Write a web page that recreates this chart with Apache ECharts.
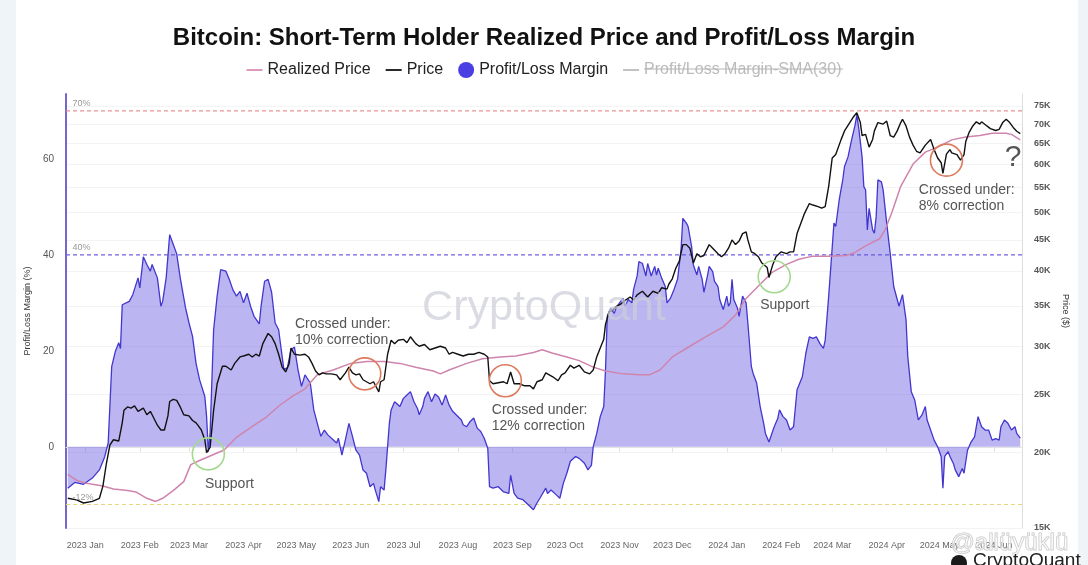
<!DOCTYPE html>
<html>
<head>
<meta charset="utf-8">
<script src="https://cdn.jsdelivr.net/npm/echarts@6/dist/echarts.min.js"></script>
<style>
html,body{margin:0;padding:0;background:#fff;}
#chart{width:1088px;height:565px;}
</style>
</head>
<body>
<div id="chart"></div>
<script>
// ---------- DATA ----------
const marginDates = [
'2022-12-22','2022-12-26','2022-12-31','2023-01-05','2023-01-09','2023-01-12','2023-01-14','2023-01-16','2023-01-18','2023-01-20',
'2023-01-21','2023-01-22','2023-01-26','2023-01-28','2023-01-31','2023-02-01','2023-02-03','2023-02-05','2023-02-07','2023-02-08',
'2023-02-11','2023-02-13','2023-02-14','2023-02-16','2023-02-18','2023-02-20','2023-02-22','2023-02-24','2023-02-27','2023-03-01',
'2023-03-03','2023-03-05','2023-03-07','2023-03-10','2023-03-11','2023-03-12','2023-03-13','2023-03-15','2023-03-17','2023-03-19',
'2023-03-22','2023-03-24','2023-03-26','2023-03-28','2023-03-30','2023-04-01','2023-04-03','2023-04-05','2023-04-07','2023-04-10',
'2023-04-11','2023-04-13','2023-04-15','2023-04-17','2023-04-19','2023-04-21','2023-04-23','2023-04-24','2023-04-26','2023-04-28',
'2023-04-30','2023-05-02','2023-05-04','2023-05-06','2023-05-09','2023-05-11','2023-05-13','2023-05-15','2023-05-17','2023-05-19',
'2023-05-22','2023-05-24','2023-05-25','2023-05-27','2023-05-29','2023-05-31','2023-06-02','2023-06-04','2023-06-06','2023-06-08',
'2023-06-10','2023-06-12','2023-06-14','2023-06-15','2023-06-17','2023-06-18','2023-06-20','2023-06-21','2023-06-23','2023-06-24',
'2023-06-26','2023-06-27','2023-06-29','2023-07-01','2023-07-03','2023-07-05','2023-07-07','2023-07-09','2023-07-10','2023-07-12',
'2023-07-13','2023-07-15','2023-07-17','2023-07-19','2023-07-21','2023-07-23','2023-07-25','2023-07-27','2023-07-29','2023-07-31',
'2023-08-03','2023-08-04','2023-08-06','2023-08-08','2023-08-10','2023-08-12','2023-08-14','2023-08-16','2023-08-18','2023-08-19',
'2023-08-21','2023-08-24','2023-08-27','2023-08-30','2023-08-31','2023-09-02','2023-09-04','2023-09-07','2023-09-09','2023-09-13',
'2023-09-15','2023-09-17','2023-09-20','2023-09-21','2023-09-23','2023-09-26','2023-09-28','2023-09-30','2023-10-02','2023-10-04',
'2023-10-05','2023-10-07','2023-10-09','2023-10-12','2023-10-14','2023-10-16','2023-10-17','2023-10-19','2023-10-21','2023-10-23',
'2023-10-24','2023-10-25','2023-10-27','2023-10-29','2023-10-30','2023-11-01','2023-11-03','2023-11-04','2023-11-06','2023-11-08',
'2023-11-09','2023-11-11','2023-11-12','2023-11-14','2023-11-16','2023-11-17','2023-11-19','2023-11-21','2023-11-22','2023-11-23',
'2023-11-25','2023-11-27','2023-11-28','2023-11-30','2023-12-02','2023-12-04','2023-12-06','2023-12-07','2023-12-09','2023-12-10',
'2023-12-12','2023-12-13','2023-12-15','2023-12-16','2023-12-18','2023-12-19','2023-12-21','2023-12-22','2023-12-24','2023-12-25',
'2023-12-27','2023-12-28','2023-12-30','2024-01-01','2024-01-02','2024-01-03','2024-01-04','2024-01-05','2024-01-07','2024-01-08',
'2024-01-10','2024-01-12','2024-01-13','2024-01-15','2024-01-16','2024-01-18','2024-01-20','2024-01-22','2024-01-23','2024-01-25',
'2024-01-26','2024-01-28','2024-01-30','2024-01-31','2024-02-02','2024-02-04','2024-02-06','2024-02-08','2024-02-10','2024-02-13',
'2024-02-15','2024-02-17','2024-02-19','2024-02-21','2024-02-23','2024-02-25','2024-02-26','2024-02-28','2024-03-02','2024-03-03',
'2024-03-05','2024-03-07','2024-03-08','2024-03-10','2024-03-12','2024-03-14','2024-03-15','2024-03-16','2024-03-18','2024-03-19',
'2024-03-20','2024-03-21','2024-03-22','2024-03-24','2024-03-25','2024-03-26','2024-03-27','2024-03-29','2024-03-30','2024-04-01',
'2024-04-03','2024-04-05','2024-04-07','2024-04-08','2024-04-10','2024-04-12','2024-04-13','2024-04-15','2024-04-17','2024-04-19',
'2024-04-21','2024-04-23','2024-04-24','2024-04-26','2024-04-28','2024-04-30','2024-05-02','2024-05-03','2024-05-04','2024-05-06',
'2024-05-07','2024-05-09','2024-05-10','2024-05-12','2024-05-14','2024-05-15','2024-05-17','2024-05-19','2024-05-21','2024-05-23',
'2024-05-25','2024-05-27','2024-05-29','2024-05-31','2024-06-02','2024-06-04','2024-06-05','2024-06-07','2024-06-09','2024-06-11',
'2024-06-13','2024-06-14','2024-06-16'
];
const marginValues = [
-8.6,-7.4,-7.8,-6.5,-4.8,-2.1,0.8,16.7,19.8,21.7,
20.5,29.6,30.3,31.7,35.2,33.1,39.6,38.0,36.6,38.0,
35.2,29.3,30.3,35.2,44.2,42.2,40.2,35.2,29.0,25.8,
23.0,17.4,14.0,10.5,6.3,-1.0,2.9,24.4,31.4,36.9,
36.6,34.8,32.7,31.4,32.4,30.0,32.0,29.3,27.2,25.6,
29.3,34.5,34.9,32.2,25.8,24.4,18.8,16.1,16.5,20.2,
20.8,16.1,12.6,15.0,13.3,7.7,4.9,2.2,3.5,2.5,
1.5,0.8,1.8,-1.7,1.5,4.9,2.2,-0.7,-1.7,-4.8,
-5.5,-8.3,-7.6,-9.0,-11.4,-8.3,-9.0,-4.8,4.9,7.7,
9.4,9.8,8.4,10.1,10.8,11.5,9.4,8.0,6.7,8.4,
10.1,11.5,9.4,11.0,10.4,8.7,10.8,8.7,7.4,6.7,
5.6,4.6,4.2,5.3,6.0,3.9,3.2,1.8,-0.3,-8.3,
-8.6,-8.3,-9.4,-9.7,-5.9,-9.7,-10.7,-11.0,-11.7,-13.1,
-11.7,-10.5,-8.6,-9.7,-9.0,-10.0,-10.7,-7.6,-5.5,-3.0,
-3.4,-2.0,-2.4,-3.4,-4.8,-3.8,0.0,2.8,6.3,8.4,
16.0,27.2,28.9,27.8,28.9,30.0,31.0,29.3,30.7,30.0,
32.8,35.6,38.6,38.2,35.6,38.2,35.6,37.6,35.8,37.2,
35.1,33.4,30.0,31.0,32.8,34.9,41.2,47.6,46.6,45.9,
41.7,37.9,35.8,37.6,34.9,32.2,35.6,37.6,36.5,34.5,
33.4,30.7,28.6,31.4,29.3,30.0,34.9,30.7,29.0,27.2,
31.4,30.0,25.8,16.7,15.3,13.3,8.4,4.9,2.8,1.0,
0.6,4.2,5.9,7.7,6.3,5.6,3.5,4.2,11.9,14.6,
19.5,22.9,22.6,22.9,21.5,20.5,22.2,31.4,46.6,45.9,
51.5,55.6,58.4,60.4,63.9,67.0,69.1,66.7,60.4,54.2,
53.5,45.2,49.7,45.2,44.5,47.9,55.6,55.2,53.5,46.6,
40.3,33.4,30.7,29.3,31.7,26.5,18.8,11.5,9.7,5.6,
6.6,8.4,5.6,3.5,1.4,0.0,-2.0,-8.6,-2.0,-1.0,
-2.0,-3.5,-4.8,-6.2,-4.5,-5.5,-0.7,1.0,2.1,6.3,
4.2,3.5,3.5,1.4,1.7,1.4,4.2,5.6,4.9,3.5,
4.2,2.8,1.8
];

const priceDates = [
'2022-12-22','2022-12-27','2022-12-31','2023-01-05','2023-01-09','2023-01-11','2023-01-13','2023-01-15','2023-01-17','2023-01-20',
'2023-01-22','2023-01-23','2023-01-25','2023-01-27','2023-01-29','2023-01-31','2023-02-03','2023-02-05','2023-02-07','2023-02-08',
'2023-02-11','2023-02-13','2023-02-15','2023-02-17','2023-02-18','2023-02-20','2023-02-22','2023-02-24','2023-02-26','2023-03-01',
'2023-03-03','2023-03-05','2023-03-06','2023-03-08','2023-03-10','2023-03-11','2023-03-12','2023-03-13','2023-03-15','2023-03-17',
'2023-03-20','2023-03-22','2023-03-25','2023-03-27','2023-03-30','2023-04-01','2023-04-04','2023-04-06','2023-04-08','2023-04-10',
'2023-04-12','2023-04-15','2023-04-17','2023-04-19','2023-04-21','2023-04-23','2023-04-25','2023-04-27','2023-04-28','2023-04-30',
'2023-05-03','2023-05-06','2023-05-08','2023-05-10','2023-05-12','2023-05-14','2023-05-16','2023-05-18','2023-05-21','2023-05-24',
'2023-05-26','2023-05-29','2023-05-31','2023-06-02','2023-06-04','2023-06-06','2023-06-08','2023-06-10','2023-06-12','2023-06-14',
'2023-06-17','2023-06-18','2023-06-20','2023-06-22','2023-06-24','2023-06-26','2023-06-28','2023-07-01','2023-07-03','2023-07-05',
'2023-07-08','2023-07-10','2023-07-13','2023-07-16','2023-07-19','2023-07-22','2023-07-25','2023-07-27','2023-07-29','2023-08-01',
'2023-08-04','2023-08-07','2023-08-10','2023-08-13','2023-08-16','2023-08-18','2023-08-19','2023-08-21','2023-08-24','2023-08-27',
'2023-08-29','2023-08-31','2023-09-02','2023-09-05','2023-09-08','2023-09-11','2023-09-13','2023-09-15','2023-09-18','2023-09-20',
'2023-09-24','2023-09-27','2023-09-29','2023-10-01','2023-10-04','2023-10-06','2023-10-09','2023-10-12','2023-10-15','2023-10-17',
'2023-10-19','2023-10-21','2023-10-23','2023-10-24','2023-10-26','2023-10-28','2023-10-30','2023-11-02','2023-11-04','2023-11-07',
'2023-11-09','2023-11-11','2023-11-14','2023-11-17','2023-11-20','2023-11-23','2023-11-25','2023-11-28','2023-11-29','2023-12-01',
'2023-12-03','2023-12-05','2023-12-07','2023-12-09','2023-12-11','2023-12-13','2023-12-15','2023-12-17','2023-12-19','2023-12-22',
'2023-12-24','2023-12-27','2023-12-29','2023-12-31','2024-01-02','2024-01-04','2024-01-06','2024-01-08','2024-01-10','2024-01-12',
'2024-01-13','2024-01-15','2024-01-17','2024-01-19','2024-01-21','2024-01-24','2024-01-25','2024-01-27','2024-01-29','2024-02-01',
'2024-02-04','2024-02-06','2024-02-08','2024-02-10','2024-02-12','2024-02-14','2024-02-17','2024-02-19','2024-02-22','2024-02-24',
'2024-02-26','2024-02-28','2024-03-01','2024-03-03','2024-03-06','2024-03-08','2024-03-11','2024-03-13','2024-03-15','2024-03-17',
'2024-03-18','2024-03-20','2024-03-22','2024-03-24','2024-03-25','2024-03-27','2024-03-30','2024-04-01','2024-04-03','2024-04-05',
'2024-04-07','2024-04-09','2024-04-10','2024-04-12','2024-04-14','2024-04-16','2024-04-18','2024-04-20','2024-04-23','2024-04-26',
'2024-04-28','2024-04-30','2024-05-02','2024-05-03','2024-05-05','2024-05-07','2024-05-08','2024-05-11','2024-05-13','2024-05-15',
'2024-05-16','2024-05-18','2024-05-20','2024-05-22','2024-05-24','2024-05-25','2024-05-28','2024-05-30','2024-06-02','2024-06-04',
'2024-06-06','2024-06-08','2024-06-10','2024-06-12','2024-06-14','2024-06-16'
];
// price in thousands of US$
const priceValues = [
16.8,16.7,16.5,16.6,16.8,17.6,19.2,20.6,21.0,20.9,
22.4,23.5,23.8,23.7,23.9,23.4,23.7,23.1,23.4,23.1,
22.2,21.8,21.8,23.0,24.3,24.5,24.4,23.8,23.1,23.0,
22.6,22.4,22.2,21.8,21.0,20.0,19.9,20.4,23.5,26.0,
27.8,27.8,27.4,28.1,28.8,28.9,29.1,28.8,29.1,28.9,
30.3,31.5,31.1,30.3,29.1,27.7,27.2,28.1,29.8,29.1,
29.0,29.1,28.8,28.1,27.3,26.9,27.1,27.0,27.0,26.9,
26.4,27.1,27.7,27.1,26.9,27.0,26.4,26.2,26.0,26.2,
25.2,26.2,26.4,29.1,30.7,30.3,30.7,30.8,30.4,31.1,
30.3,30.0,30.2,29.6,29.8,30.0,29.8,29.1,29.3,29.1,
28.9,29.1,29.1,29.3,29.1,28.8,26.3,26.0,26.1,26.2,
26.0,27.2,26.0,26.0,25.8,25.8,25.5,26.2,26.4,27.1,
26.7,26.3,26.9,27.1,27.9,27.6,27.9,27.2,27.0,27.4,
28.8,29.8,30.8,32.6,34.2,34.4,34.9,35.3,35.7,36.2,
35.8,36.5,37.0,36.2,37.0,36.7,37.5,37.3,38.0,38.8,
40.4,41.5,44.2,44.2,43.6,41.2,42.7,42.2,42.4,44.2,
43.6,42.7,42.2,42.7,43.6,45.0,44.2,44.8,46.1,46.4,
45.0,43.0,42.7,42.2,41.2,40.5,39.0,40.8,42.2,43.0,
42.7,43.0,43.0,46.1,47.8,49.6,51.7,51.4,51.1,50.8,
51.1,55.2,61.5,62.3,65.9,68.2,70.4,71.9,73.1,70.4,
67.0,67.3,64.1,66.0,68.2,70.4,70.0,70.8,67.0,66.6,
68.2,70.4,71.3,69.5,66.6,64.6,63.1,62.7,64.6,66.0,
63.5,61.5,60.4,58.0,62.4,63.5,62.7,62.3,61.0,62.3,
65.5,67.9,69.5,70.6,70.0,70.6,69.5,68.8,68.3,68.6,
70.4,71.3,70.4,69.1,68.1,67.5
];

const realizedDates = [
'2022-12-22','2022-12-27','2023-01-01','2023-01-06','2023-01-11','2023-01-17','2023-01-25','2023-01-30','2023-02-05','2023-02-10',
'2023-02-14','2023-02-20','2023-02-26','2023-03-02','2023-03-07','2023-03-14','2023-03-21','2023-03-28','2023-04-05','2023-04-14',
'2023-04-22','2023-04-29','2023-05-06','2023-05-13','2023-05-22','2023-06-01','2023-06-10','2023-06-20','2023-06-29','2023-07-08',
'2023-07-18','2023-07-22','2023-07-27','2023-08-06','2023-08-15','2023-08-25','2023-09-03','2023-09-13','2023-09-18','2023-09-24',
'2023-10-02','2023-10-09','2023-10-17','2023-10-24','2023-11-03','2023-11-12','2023-11-18','2023-11-24','2023-12-01','2023-12-11',
'2023-12-20','2023-12-30','2024-01-06','2024-01-12','2024-01-20','2024-01-27','2024-02-04','2024-02-11','2024-02-19','2024-02-28',
'2024-03-09','2024-03-14','2024-03-20','2024-03-28','2024-03-31','2024-04-04','2024-04-09','2024-04-16','2024-04-23','2024-05-01',
'2024-05-08','2024-05-16','2024-05-24','2024-05-31','2024-06-08','2024-06-11','2024-06-16'
];
const realizedValues = [
18.4,18.0,17.8,17.7,17.6,17.4,17.3,17.2,16.8,16.6,
16.8,17.3,17.9,19.1,19.4,19.8,20.2,21.2,22.0,22.9,
24.0,24.8,25.5,26.9,27.4,28.1,28.3,28.3,28.1,27.7,
27.3,27.0,27.4,28.1,28.6,28.8,28.9,29.3,29.6,29.2,
28.8,28.4,27.7,27.3,27.0,26.9,26.9,27.4,28.8,30.0,
31.1,32.3,33.8,36.0,38.0,39.8,41.0,41.8,42.3,42.3,
42.4,42.9,44.0,45.2,46.7,50.0,55.2,60.1,62.9,64.3,
65.9,66.6,67.0,67.6,67.6,67.3,65.9
];

// axis ticks
const marginTicks = [0, 20, 40, 60];
const priceTicks = [15, 20, 25, 30, 35, 40, 45, 50, 55, 60, 65, 70, 75];
const refLines = [70, 40, -12];

// annotations (in data coordinates)
const circleMarks = [
  {date:'2023-03-12', price:19.9, kind:'support'},
  {date:'2023-06-09', price:27.0, kind:'cross'},
  {date:'2023-08-28', price:26.3, kind:'cross'},
  {date:'2024-01-28', price:39.1, kind:'support'},
  {date:'2024-05-05', price:61.0, kind:'cross'}
];
const textMarks = [
  {date:'2023-03-24', margin:-7.7, text:'Support', align:'center'},
  {date:'2023-04-30', margin:23.8, text:'Crossed under:\n10% correction', align:'left'},
  {date:'2023-08-20', margin:6.0, text:'Crossed under:\n12% correction', align:'left'},
  {date:'2024-02-03', margin:29.6, text:'Support', align:'center'},
  {date:'2024-04-19', margin:51.9, text:'Crossed under:\n8% correction', align:'left'},
  {date:'2024-06-12', margin:60.2, text:'?', align:'center', big:true}
];

// ---------- CHART ----------
function toTime(s){ const p = s.split('-').map(Number); return new Date(p[0], p[1]-1, p[2]).getTime(); }
const monthNames = ['Jan','Feb','Mar','Apr','May','Jun','Jul','Aug','Sep','Oct','Nov','Dec'];
const zip = (d, v) => d.map((x, i) => [toTime(x), v[i]]);
const FONT = 'Liberation Sans';
const DAY = 86400000;
const X_MIN = toTime('2022-12-21'), X_MAX = toTime('2024-06-17');
// thin horizontal bar icon whose bounding box is the full legend item box
const LINE_ICON = 'path://M0,0 M16,16 M0,7.1 L16,7.1 L16,8.9 L0,8.9 Z';

const chart = echarts.init(document.getElementById('chart'), null, {renderer:'canvas'});
const refColors = ['#e89393', '#7062e0', '#e6d77c'];

const refSeries = refLines.map((v, i) => ({
  name: 'ref' + v, type: 'line', yAxisIndex: 0, silent: true, z: 1,
  data: [[X_MIN, v], [X_MAX, v]],
  symbol: 'none',
  lineStyle: {color: refColors[i], type: [4, 3], width: 1.2},
  markPoint: {
    silent: true,
    data: [{
      coord: [X_MIN, v], symbol: 'circle', symbolSize: 1, itemStyle: {color: 'rgba(0,0,0,0)'},
      label: {show: true, formatter: v + '%', position: 'right', distance: 6, offset: [0, -7],
              fontSize: 9, color: '#999', fontFamily: FONT}
    }]
  }
}));

const option = {
  animation: false,
  backgroundColor: '#ffffff',
  textStyle: {fontFamily: FONT},
  title: {
    text: 'Bitcoin: Short-Term Holder Realized Price and Profit/Loss Margin',
    left: 'center', top: 21,
    textStyle: {fontSize: 24, fontWeight: 'bold', color: '#111', fontFamily: FONT}
  },
  legend: {
    top: 57, left: 'center',
    itemWidth: 16, itemHeight: 16, itemGap: 15,
    textStyle: {fontSize: 16, color: '#222', fontFamily: FONT},
    inactiveColor: '#bbbbbb',
    data: [
      {name: 'Realized Price', icon: LINE_ICON},
      {name: 'Price', icon: LINE_ICON},
      {name: 'Profit/Loss Margin', icon: 'circle'},
      {name: 'Profit/Loss Margin-SMA(30)', icon: LINE_ICON}
    ],
    selected: {'Profit/Loss Margin-SMA(30)': false}
  },
  grid: {left: 66, right: 66, top: 94, bottom: 37},
  xAxis: {
    type: 'time',
    min: X_MIN, max: X_MAX,
    minInterval: 28 * DAY, maxInterval: 31 * DAY,
    axisLine: {show: true, lineStyle: {color: '#e2e2e2'}},
    axisTick: {show: true, length: 5, lineStyle: {color: '#e2e2e2'}},
    axisLabel: {
      fontSize: 9, color: '#666', margin: 13, hideOverlap: false,
      formatter: v => { const d = new Date(v); return d.getFullYear() + ' ' + monthNames[d.getMonth()]; }
    },
    splitLine: {show: false}
  },
  yAxis: [
    {
      type: 'value', position: 'left', min: -16.9, max: 73.5,
      name: 'Profit/Loss Margin (%)', nameLocation: 'middle', nameRotate: 90, nameGap: 22,
      nameTextStyle: {fontSize: 9, color: '#333'},
      axisLine: {show: true, lineStyle: {color: '#7367c9', width: 2}},
      axisTick: {show: false},
      axisLabel: {customValues: marginTicks, fontSize: 10, color: '#555', margin: 12},
      splitLine: {show: false}
    },
    {
      type: 'log', position: 'right', min: 15, max: 78.5,
      name: 'Price ($)', nameLocation: 'middle', nameRotate: -90, nameGap: 25,
      nameTextStyle: {fontSize: 9, color: '#333'},
      axisLine: {show: true, lineStyle: {color: '#dcdcdc'}},
      axisTick: {show: false, customValues: priceTicks},
      axisLabel: {customValues: priceTicks, fontSize: 9, fontWeight: 'bold', color: '#555', margin: 12,
                  formatter: v => Math.round(v) + 'K'},
      splitLine: {show: true, lineStyle: {color: '#f3f3f3'}}
    }
  ],
  series: [
    ...refSeries,
    {
      name: 'Profit/Loss Margin', type: 'line', yAxisIndex: 0,
      data: zip(marginDates, marginValues),
      symbol: 'none', z: 2,
      itemStyle: {color: '#4a3fe2'},
      lineStyle: {color: '#4236cf', width: 1.3},
      areaStyle: {color: 'rgba(92,80,222,0.6)', origin: 0},
      markPoint: {
        silent: true,
        data: textMarks.map(t => ({
          coord: [toTime(t.date), t.margin],
          symbol: 'circle', symbolSize: 1,
          itemStyle: {color: 'rgba(0,0,0,0)'},
          label: {
            show: true, formatter: t.text,
            position: t.align === 'left' ? 'right' : 'inside',
            distance: 0, align: t.align === 'left' ? 'left' : 'center',
            fontSize: t.big ? 30 : 14, lineHeight: t.big ? 32 : 16,
            color: '#555', fontFamily: FONT
          }
        }))
      }
    },
    {
      name: 'Realized Price', type: 'line', yAxisIndex: 1,
      data: zip(realizedDates, realizedValues),
      symbol: 'none', z: 3,
      itemStyle: {color: '#d98fb6'},
      lineStyle: {color: '#cf84ad', width: 1.5}
    },
    {
      name: 'Price', type: 'line', yAxisIndex: 1,
      data: zip(priceDates, priceValues),
      symbol: 'none', z: 4,
      itemStyle: {color: '#111'},
      lineStyle: {color: '#111', width: 1.4},
      markPoint: {
        silent: true,
        data: circleMarks.map(c => ({
          coord: [toTime(c.date), c.price],
          symbol: 'circle', symbolSize: 32,
          itemStyle: {color: 'rgba(0,0,0,0)', borderColor: c.kind === 'support' ? '#a3d98f' : '#dd7a5e', borderWidth: 1.6},
          label: {show: false}
        }))
      }
    },
    {
      name: 'Profit/Loss Margin-SMA(30)', type: 'line', yAxisIndex: 0,
      data: [], symbol: 'none',
      itemStyle: {color: '#cccccc'}, lineStyle: {color: '#cccccc', width: 1}
    }
  ],
  graphic: [
    {type: 'rect', left: 0, top: 0, shape: {width: 16, height: 565}, style: {fill: '#eef4f7'}, z: -10},
    {type: 'rect', right: 0, top: 0, shape: {width: 10, height: 565}, style: {fill: '#eef4f7'}, z: -10},
    {type: 'text', left: 'center', top: 287, z: 50,
     style: {text: 'CryptoQuant', fontSize: 43, fontFamily: FONT, fill: 'rgba(205,205,218,0.72)'}},
    {type: 'line', z: 50, shape: {x1: 644, y1: 69, x2: 843, y2: 69}, style: {stroke: '#b4b4b4', lineWidth: 1}},
    {type: 'text', left: 950, top: 531, z: 60,
     style: {text: '@aliüyüklü', fontSize: 24, fontFamily: FONT, fill: 'rgba(255,255,255,0.5)', stroke: '#c4c4c4', lineWidth: 1}},
    {type: 'circle', z: 60, shape: {cx: 959, cy: 563, r: 8}, style: {fill: '#1a1a1a'}},
    {type: 'text', left: 973, top: 551, z: 60,
     style: {text: 'CryptoQuant', fontSize: 19, fontFamily: FONT, fill: '#222'}}
  ]
};
chart.setOption(option);
</script>
</body>
</html>
